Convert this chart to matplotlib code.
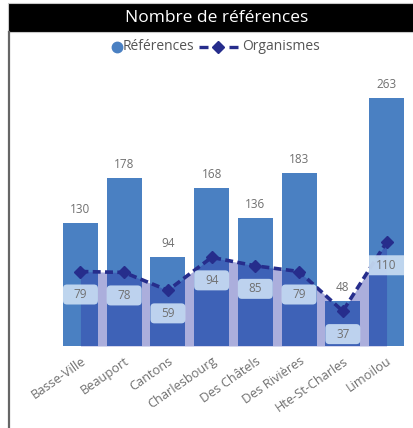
import matplotlib
matplotlib.use("Agg")
import matplotlib.pyplot as plt
from matplotlib.patches import Rectangle, FancyBboxPatch
from matplotlib.lines import Line2D
from matplotlib.transforms import offset_copy
import numpy as np

# Data
secteurs = ["Basse-Ville", "Beauport", "Cantons", "Charlesbourg",
            "Des Châtels", "Des Rivières", "Hte-St-Charles", "Limoilou"]
references = [130, 178, 94, 168, 136, 183, 48, 263]
organismes = [79, 78, 59, 94, 85, 79, 37, 110]

plt.rcParams["font.family"] = ["Open Sans", "DejaVu Sans"]

W, H = 414, 428
fig = plt.figure(figsize=(W / 100, H / 100), dpi=100)

def fx(px):
    return px / W

def fy(py):
    return 1 - py / H

# Title band
fig.add_artist(Rectangle((fx(8), fy(32)), fx(406), 29 / H, transform=fig.transFigure,
                         facecolor="black", edgecolor="#c8c8c8", linewidth=0.8))
fig.text(fx(217), fy(17.5), "Nombre de références", color="white", fontsize=12.5,
         ha="center", va="center")
# Left frame line
fig.add_artist(Line2D([fx(8.5), fx(8.5)], [fy(32), 0], transform=fig.transFigure,
                      color="#666666", linewidth=1.6))

bar_color = "#4a80c2"
line_color = "#262d8c"
text_color = "#707070"
dash = (0, (2.2, 1.2))

ax_left, ax_right = 58.6, 408.4
ymax = 290
px_per_unit = 0.943
slot_px = (ax_right - ax_left) / 8
ax_top = 346 - ymax * px_per_unit
ax = fig.add_axes([fx(ax_left), fy(346), (ax_right - ax_left) / W, (346 - ax_top) / H])

x = np.arange(len(secteurs))
ax.bar(x, references, width=0.8, color=bar_color, zorder=1)
ax.fill_between(x, 0, organismes, color="#2d36a8", alpha=0.4, linewidth=0, zorder=2)
ax.plot(x, organismes, color=line_color, linestyle=dash, linewidth=2.6,
        marker="D", markersize=6, zorder=4)

for xi, v in zip(x, references):
    ax.annotate(str(v), (xi, v), xytext=(0, 5), textcoords="offset points",
                ha="center", va="bottom", fontsize=8.5, color=text_color)

# Value boxes under the line points
y_per_px = 1 / px_per_unit
x_per_px = 1 / slot_px
box_h = 20 * y_per_px
aspect = y_per_px / x_per_px
for i, (xi, v) in enumerate(zip(x, organismes)):
    cy = v - 23 * y_per_px
    last = i == len(x) - 1
    bw = 0.8
    rs = 0.0 if last else 4 * x_per_px
    ax.add_patch(FancyBboxPatch((xi - bw / 2, cy - box_h / 2), bw, box_h,
                                boxstyle=f"round,pad=0,rounding_size={rs}",
                                mutation_aspect=aspect,
                                facecolor="#c9ddf3", edgecolor="none", alpha=0.92,
                                zorder=5))
    ax.text(xi, cy, str(v), ha="center", va="center", fontsize=8.5,
            color=text_color, zorder=6)

ax.set_xlim(-0.5, len(x) - 0.5)
ax.set_ylim(0, ymax)
ax.set_yticks([])
ax.set_xticks(x)
labels = ax.set_xticklabels(secteurs, rotation=35, ha="right", rotation_mode="anchor",
                            fontsize=9.2, color=text_color)
for lab in labels:
    lab.set_transform(offset_copy(lab.get_transform(), fig=fig, x=-8, y=0, units="dots"))
ax.tick_params(axis="x", length=0, pad=6)
for s in ax.spines.values():
    s.set_visible(False)
ax.patch.set_alpha(0)

# Legend
leg_y = fy(47)
fig.add_artist(Line2D([fx(117)], [leg_y], marker="o", color=bar_color, markersize=7.5,
                      linestyle="none", transform=fig.transFigure))
fig.text(fx(123), leg_y, "Références", color="#555555", fontsize=10,
         ha="left", va="center")
for a, b in ((199, 208), (229, 238)):
    fig.add_artist(Line2D([fx(a), fx(b)], [leg_y, leg_y], color=line_color,
                          linewidth=2.4, solid_capstyle="butt", transform=fig.transFigure))
fig.add_artist(Line2D([fx(218.5)], [leg_y], marker="D", color=line_color, markersize=6,
                      linestyle="none", transform=fig.transFigure))
fig.text(fx(242), leg_y, "Organismes", color="#555555", fontsize=10,
         ha="left", va="center")

fig.savefig("out.png", dpi=100)
